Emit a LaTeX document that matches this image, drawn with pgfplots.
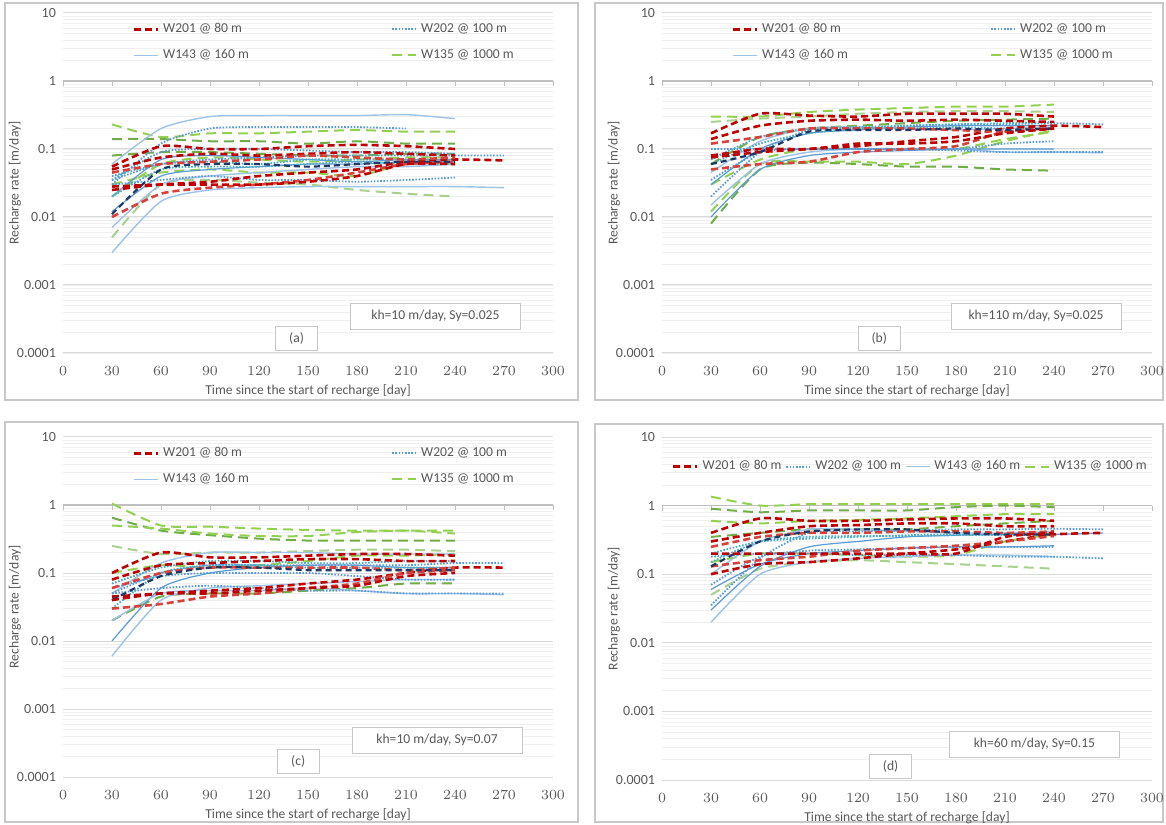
\documentclass[border=0pt]{standalone}
\usepackage{fontspec}
\setmainfont{Carlito}
\usepackage{pgfplots}
\pgfplotsset{compat=1.18}

\definecolor{cred}{HTML}{C00000}
\definecolor{cred2}{HTML}{D9403A}
\definecolor{cnavy}{HTML}{1F3864}
\definecolor{cblue}{HTML}{5B9BD5}
\definecolor{cteal}{HTML}{4BACC6}
\definecolor{clblue}{HTML}{9DC3E6}
\definecolor{cgreen}{HTML}{92D050}
\definecolor{cgreen2}{HTML}{70AD47}
\definecolor{cgreen3}{HTML}{A9D18E}
\definecolor{tickgray}{HTML}{595959}
\definecolor{gridmaj}{HTML}{D9D9D9}
\definecolor{gridmin}{HTML}{EFEFEF}
\definecolor{framegray}{HTML}{C8C8C8}
\definecolor{axgray}{HTML}{BFBFBF}

\tikzset{
  w201/.style={draw=cred, line width=1.3pt, dash pattern=on 3.5pt off 2pt},
  w201b/.style={draw=cred2, line width=1.3pt, dash pattern=on 3.5pt off 2pt},
  w201n/.style={draw=cnavy, line width=1.1pt, dash pattern=on 3pt off 2pt},
  w202/.style={draw=cblue, line width=0.9pt, dash pattern=on 0.8pt off 0.8pt},
  w202t/.style={draw=cteal, line width=0.9pt, dash pattern=on 0.8pt off 0.8pt},
  w143/.style={draw=clblue, line width=0.7pt},
  w143b/.style={draw=cblue, line width=0.6pt},
  w135/.style={draw=cgreen, line width=1pt, dash pattern=on 5pt off 3pt},
  w135b/.style={draw=cgreen2, line width=1pt, dash pattern=on 5pt off 3pt},
  w135c/.style={draw=cgreen3, line width=1pt, dash pattern=on 5pt off 3pt},
  annot/.style={draw=framegray, fill=white, font=\fontsize{6.8}{8}\selectfont, text=tickgray,
    minimum width=85pt, minimum height=13pt, inner sep=1pt},
  lab/.style={draw=framegray, fill=white, font=\fontsize{6.8}{8}\selectfont, text=tickgray,
    minimum width=21pt, minimum height=12pt, inner sep=1pt},
}

\pgfplotsset{
  every axis plot/.append style={smooth, tension=0.4},
  panel/.style={
    scale only axis, width=245pt, height=170pt, anchor=south west,
    xmin=0, xmax=300, ymin=1e-4, ymax=10,
    xtick={0,30,...,300},
    ytick={1e-4,1e-3,1e-2,1e-1,1,10},
    yticklabels={0.0001,0.001,0.01,0.1,1,10},
    axis line style={draw=none}, major tick length=0pt, minor tick length=0pt,
    ymajorgrids, yminorgrids,
    major grid style={draw=gridmaj, line width=0.5pt},
    minor grid style={draw=gridmin, line width=0.4pt},
    tick label style={font=\fontsize{7}{8}\selectfont, text=tickgray},
    xticklabel style={yshift=-3pt},
    xlabel={Time since the start of recharge [day]},
    ylabel={Recharge rate [m/day]},
    every axis x label/.style={at={(axis description cs:0.5,-0.11)}, anchor=center,
      font=\fontsize{6.8}{8}\selectfont, text=tickgray},
    every axis y label/.style={at={(axis description cs:-0.098,0.5)}, rotate=90, anchor=center,
      font=\fontsize{6.8}{8}\selectfont, text=tickgray},
    clip mode=individual,
    legend columns=2,
    legend image code/.code={\draw[##1] (0pt,0pt) -- (12pt,0pt);},
    legend style={draw=none, fill=none, font=\fontsize{6.8}{8}\selectfont, text=tickgray,
      at={(axis description cs:0.129,0.995)}, anchor=north west,
      column sep=0pt, row sep=3pt},
    legend cell align=left,
  },
}

\newcommand{\legendtwo}{%
  \addlegendimage{w201, sharp plot}\addlegendentry{\makebox[112pt][l]{W201 @ 80 m}}
  \addlegendimage{w202, sharp plot}\addlegendentry{W202 @ 100 m}
  \addlegendimage{w143, sharp plot}\addlegendentry{\makebox[112pt][l]{W143 @ 160 m}}
  \addlegendimage{w135, sharp plot}\addlegendentry{W135 @ 1000 m}}
\newcommand{\legendrow}{%
  \addlegendimage{w201, sharp plot}\addlegendentry{W201 @ 80 m}
  \addlegendimage{w202, sharp plot}\addlegendentry{W202 @ 100 m}
  \addlegendimage{w143, sharp plot}\addlegendentry{W143 @ 160 m}
  \addlegendimage{w135, sharp plot}\addlegendentry{W135 @ 1000 m}}
\newcommand{\onexaxis}{%
  \draw[draw=axgray, line width=0.6pt] (axis cs:0,1) -- (axis cs:300,1);
  \pgfplotsinvokeforeach{0,30,...,300}{\draw[draw=axgray, line width=0.5pt] (axis cs:##1,1) -- ++(0pt,-2.5pt);}}

\begin{document}
\begin{tikzpicture}
\useasboundingbox (0pt,0pt) rectangle (583pt,412pt);
\fill[white] (0pt,0pt) rectangle (583pt,412pt);
\draw[framegray, line width=0.6pt] (2.5pt,212pt) rectangle (289pt,410.5pt);
\draw[framegray, line width=0.6pt] (297.5pt,212pt) rectangle (581.5pt,410.5pt);
\draw[framegray, line width=0.6pt] (2.5pt,1pt) rectangle (289pt,201pt);
\draw[framegray, line width=0.6pt] (297.5pt,1pt) rectangle (581.5pt,200pt);

% ---------------- (a)
\begin{axis}[ymode=log, panel, at={(31.5pt,235.5pt)}]
\legendtwo
\onexaxis
\addplot[w135, forget plot] coordinates {(30,0.23)(60,0.15)(90,0.17)(120,0.17)(150,0.18)(180,0.19)(210,0.18)(240,0.18)};
\addplot[w135b, forget plot] coordinates {(30,0.14)(60,0.14)(90,0.13)(120,0.13)(150,0.12)(180,0.13)(210,0.12)(240,0.12)};
\addplot[w135c, forget plot] coordinates {(30,0.005)(60,0.03)(90,0.035)(120,0.032)(150,0.03)(180,0.025)(210,0.022)(240,0.02)};
\addplot[w135, forget plot] coordinates {(30,0.02)(60,0.06)(90,0.075)(120,0.07)(150,0.065)(180,0.07)(210,0.075)(240,0.075)};
\addplot[w135b, forget plot] coordinates {(30,0.08)(60,0.09)(90,0.09)(120,0.085)(150,0.08)(180,0.08)(210,0.085)(240,0.085)};
\addplot[w135, forget plot] coordinates {(30,0.03)(60,0.045)(90,0.05)(120,0.045)(150,0.045)(180,0.04)(210,0.06)(240,0.06)};
\addplot[w143, forget plot] coordinates {(30,0.06)(60,0.2)(90,0.3)(120,0.31)(150,0.31)(180,0.31)(210,0.32)(240,0.28)};
\addplot[w143, forget plot] coordinates {(30,0.003)(60,0.017)(90,0.025)(120,0.027)(150,0.028)(180,0.028)(210,0.028)(240,0.028)(270,0.027)};
\addplot[w143b, forget plot] coordinates {(30,0.012)(60,0.04)(90,0.05)(120,0.055)(150,0.06)(180,0.06)(210,0.065)(240,0.065)};
\addplot[w143, forget plot] coordinates {(30,0.007)(60,0.03)(90,0.04)(120,0.045)(150,0.05)(180,0.055)(210,0.055)(240,0.06)};
\addplot[w143b, forget plot] coordinates {(30,0.02)(60,0.07)(90,0.08)(120,0.075)(150,0.07)(180,0.065)(210,0.07)(240,0.07)};
\addplot[w202, forget plot] coordinates {(30,0.03)(60,0.12)(90,0.2)(120,0.21)(150,0.21)(180,0.21)(210,0.2)};
\addplot[w202, forget plot] coordinates {(30,0.035)(60,0.06)(90,0.07)(120,0.075)(150,0.08)(180,0.08)(210,0.08)(240,0.08)(270,0.08)};
\addplot[w202, forget plot] coordinates {(30,0.03)(60,0.035)(90,0.04)(120,0.035)(150,0.035)(180,0.033)(210,0.035)(240,0.038)};
\addplot[w202t, forget plot] coordinates {(30,0.02)(60,0.05)(90,0.055)(120,0.055)(150,0.06)(180,0.065)(210,0.06)(240,0.06)};
\addplot[w202t, forget plot] coordinates {(30,0.04)(60,0.06)(90,0.065)(120,0.06)(150,0.07)(180,0.07)(210,0.07)(240,0.07)};
\addplot[w202, forget plot] coordinates {(30,0.035)(60,0.09)(90,0.1)(120,0.1)(150,0.095)(180,0.09)(210,0.09)(240,0.085)};
\addplot[w201, forget plot] coordinates {(30,0.055)(60,0.11)(90,0.1)(120,0.1)(150,0.11)(180,0.115)(210,0.11)(240,0.1)};
\addplot[w201, forget plot] coordinates {(30,0.05)(60,0.075)(90,0.085)(120,0.08)(150,0.085)(180,0.09)(210,0.085)(240,0.08)};
\addplot[w201, forget plot] coordinates {(30,0.025)(60,0.03)(90,0.033)(120,0.04)(150,0.045)(180,0.05)(210,0.065)(240,0.07)(270,0.068)};
\addplot[w201b, forget plot] coordinates {(30,0.01)(60,0.022)(90,0.027)(120,0.03)(150,0.035)(180,0.045)(210,0.06)(240,0.065)};
\addplot[w201b, forget plot] coordinates {(30,0.045)(60,0.06)(90,0.065)(120,0.07)(150,0.08)(180,0.075)(210,0.07)(240,0.075)};
\addplot[w201n, forget plot] coordinates {(30,0.011)(60,0.05)(90,0.06)(120,0.06)(150,0.055)(180,0.06)(210,0.065)(240,0.065)};
\addplot[w201, forget plot] coordinates {(30,0.028)(60,0.03)(90,0.03)(120,0.03)(150,0.033)(180,0.04)(210,0.06)(240,0.06)};
\node[annot] at (axis cs:228,3.47e-4) {kh=10 m/day, Sy=0.025};
\node[lab] at (axis cs:143,1.64e-4) {(a)};
\end{axis}

% ---------------- (b)
\begin{axis}[ymode=log, panel, at={(331pt,235.5pt)}]
\legendtwo
\onexaxis
\addplot[w135, forget plot] coordinates {(30,0.3)(60,0.3)(90,0.35)(120,0.38)(150,0.4)(180,0.42)(210,0.42)(240,0.45)};
\addplot[w135b, forget plot] coordinates {(30,0.008)(60,0.05)(90,0.063)(120,0.06)(150,0.055)(180,0.055)(210,0.05)(240,0.048)};
\addplot[w135c, forget plot] coordinates {(30,0.25)(60,0.28)(90,0.3)(120,0.33)(150,0.35)(180,0.36)(210,0.36)(240,0.35)};
\addplot[w135, forget plot] coordinates {(30,0.012)(60,0.06)(90,0.065)(120,0.065)(150,0.06)(180,0.08)(210,0.13)(240,0.19)};
\addplot[w135b, forget plot] coordinates {(30,0.06)(60,0.15)(90,0.2)(120,0.22)(150,0.24)(180,0.26)(210,0.27)(240,0.28)};
\addplot[w135, forget plot] coordinates {(30,0.03)(60,0.07)(90,0.1)(120,0.1)(150,0.1)(180,0.1)(210,0.14)(240,0.18)};
\addplot[w143, forget plot] coordinates {(30,0.015)(60,0.06)(90,0.09)(120,0.1)(150,0.1)(180,0.1)(210,0.09)(240,0.09)(270,0.088)};
\addplot[w143b, forget plot] coordinates {(30,0.03)(60,0.1)(90,0.17)(120,0.19)(150,0.21)(180,0.22)(210,0.22)(240,0.22)};
\addplot[w143, forget plot] coordinates {(30,0.045)(60,0.13)(90,0.2)(120,0.21)(150,0.2)(180,0.19)(210,0.2)(240,0.21)};
\addplot[w143b, forget plot] coordinates {(30,0.01)(60,0.05)(90,0.08)(120,0.09)(150,0.095)(180,0.1)(210,0.1)(240,0.1)};
\addplot[w202, forget plot] coordinates {(30,0.1)(60,0.1)(90,0.1)(120,0.1)(150,0.1)(180,0.095)(210,0.09)(240,0.09)(270,0.09)};
\addplot[w202, forget plot] coordinates {(30,0.035)(60,0.09)(90,0.1)(120,0.1)(150,0.1)(180,0.1)(210,0.12)(240,0.13)};
\addplot[w202, forget plot] coordinates {(30,0.02)(60,0.09)(90,0.19)(120,0.2)(150,0.22)(180,0.23)(210,0.23)(240,0.24)(270,0.23)};
\addplot[w202t, forget plot] coordinates {(30,0.06)(60,0.12)(90,0.17)(120,0.2)(150,0.2)(180,0.21)(210,0.2)(240,0.2)};
\addplot[w202t, forget plot] coordinates {(30,0.07)(60,0.15)(90,0.2)(120,0.21)(150,0.22)(180,0.23)(210,0.24)(240,0.25)};
\addplot[w201, forget plot] coordinates {(30,0.17)(60,0.33)(90,0.31)(120,0.3)(150,0.33)(180,0.33)(210,0.33)(240,0.3)};
\addplot[w201, forget plot] coordinates {(30,0.14)(60,0.22)(90,0.26)(120,0.27)(150,0.26)(180,0.27)(210,0.26)(240,0.25)};
\addplot[w201, forget plot] coordinates {(30,0.075)(60,0.09)(90,0.1)(120,0.11)(150,0.13)(180,0.15)(210,0.2)(240,0.22)(270,0.21)};
\addplot[w201b, forget plot] coordinates {(30,0.05)(60,0.06)(90,0.065)(120,0.09)(150,0.1)(180,0.11)(210,0.18)(240,0.2)};
\addplot[w201b, forget plot] coordinates {(30,0.12)(60,0.15)(90,0.2)(120,0.2)(150,0.2)(180,0.19)(210,0.18)(240,0.2)};
\addplot[w201n, forget plot] coordinates {(30,0.06)(60,0.09)(90,0.18)(120,0.19)(150,0.19)(180,0.2)(210,0.19)(240,0.2)};
\addplot[w201, forget plot] coordinates {(30,0.08)(60,0.1)(90,0.1)(120,0.12)(150,0.12)(180,0.13)(210,0.17)(240,0.2)};
\node[annot] at (axis cs:229,3.47e-4) {kh=110 m/day, Sy=0.025};
\node[lab] at (axis cs:133,1.64e-4) {(b)};
\end{axis}

% ---------------- (c)
\begin{axis}[ymode=log, panel, at={(31.5pt,23.5pt)}]
\legendtwo
\onexaxis
\addplot[w135, forget plot] coordinates {(30,1.05)(60,0.5)(90,0.48)(120,0.45)(150,0.43)(180,0.42)(210,0.42)(240,0.42)};
\addplot[w135b, forget plot] coordinates {(30,0.65)(60,0.42)(90,0.36)(120,0.32)(150,0.3)(180,0.3)(210,0.3)(240,0.3)};
\addplot[w135, forget plot] coordinates {(30,0.5)(60,0.45)(90,0.38)(120,0.35)(150,0.35)(180,0.4)(210,0.42)(240,0.38)};
\addplot[w135c, forget plot] coordinates {(30,0.25)(60,0.19)(90,0.2)(120,0.2)(150,0.21)(180,0.22)(210,0.22)(240,0.21)};
\addplot[w135b, forget plot] coordinates {(30,0.02)(60,0.045)(90,0.05)(120,0.05)(150,0.055)(180,0.06)(210,0.07)(240,0.07)};
\addplot[w135, forget plot] coordinates {(30,0.1)(60,0.13)(90,0.12)(120,0.13)(150,0.15)(180,0.18)(210,0.18)(240,0.19)};
\addplot[w143, forget plot] coordinates {(30,0.006)(60,0.04)(90,0.06)(120,0.065)(150,0.07)(180,0.075)(210,0.08)(240,0.08)};
\addplot[w143b, forget plot] coordinates {(30,0.01)(60,0.06)(90,0.1)(120,0.12)(150,0.13)(180,0.13)(210,0.12)(240,0.12)};
\addplot[w143, forget plot] coordinates {(30,0.05)(60,0.14)(90,0.2)(120,0.2)(150,0.2)(180,0.19)(210,0.19)(240,0.19)};
\addplot[w143, forget plot] coordinates {(30,0.02)(60,0.05)(90,0.055)(120,0.055)(150,0.06)(180,0.055)(210,0.05)(240,0.05)(270,0.048)};
\addplot[w202, forget plot] coordinates {(30,0.05)(60,0.1)(90,0.13)(120,0.13)(150,0.13)(180,0.13)(210,0.13)(240,0.14)(270,0.14)};
\addplot[w202, forget plot] coordinates {(30,0.06)(60,0.09)(90,0.1)(120,0.1)(150,0.1)(180,0.09)(210,0.08)(240,0.08)};
\addplot[w202, forget plot] coordinates {(30,0.05)(60,0.06)(90,0.065)(120,0.06)(150,0.055)(180,0.055)(210,0.05)(240,0.05)(270,0.05)};
\addplot[w202t, forget plot] coordinates {(30,0.03)(60,0.1)(90,0.13)(120,0.13)(150,0.12)(180,0.12)(210,0.12)(240,0.12)};
\addplot[w202t, forget plot] coordinates {(30,0.07)(60,0.12)(90,0.15)(120,0.15)(150,0.14)(180,0.14)(210,0.15)(240,0.15)};
\addplot[w201, forget plot] coordinates {(30,0.1)(60,0.2)(90,0.17)(120,0.17)(150,0.18)(180,0.19)(210,0.19)(240,0.18)};
\addplot[w201, forget plot] coordinates {(30,0.08)(60,0.13)(90,0.14)(120,0.15)(150,0.16)(180,0.16)(210,0.15)(240,0.15)};
\addplot[w201, forget plot] coordinates {(30,0.045)(60,0.05)(90,0.055)(120,0.06)(150,0.07)(180,0.08)(210,0.1)(240,0.12)(270,0.12)};
\addplot[w201b, forget plot] coordinates {(30,0.03)(60,0.035)(90,0.045)(120,0.05)(150,0.06)(180,0.07)(210,0.1)(240,0.11)};
\addplot[w201b, forget plot] coordinates {(30,0.06)(60,0.1)(90,0.12)(120,0.12)(150,0.12)(180,0.12)(210,0.11)(240,0.12)};
\addplot[w201n, forget plot] coordinates {(30,0.04)(60,0.09)(90,0.12)(120,0.12)(150,0.11)(180,0.11)(210,0.11)(240,0.11)};
\addplot[w201, forget plot] coordinates {(30,0.04)(60,0.05)(90,0.05)(120,0.055)(150,0.06)(180,0.065)(210,0.09)(240,0.1)};
\node[annot] at (axis cs:229,3.5e-4) {kh=10 m/day, Sy=0.07};
\node[lab] at (axis cs:144,1.7e-4) {(c)};
\end{axis}

% ---------------- (d)
\begin{axis}[ymode=log, panel, at={(331pt,22pt)}, height=171.5pt, legend columns=4,
  legend style={at={(axis description cs:0.509,0.956)}, anchor=north}]
\legendrow
\onexaxis
\addplot[w135, forget plot] coordinates {(30,1.35)(60,1.0)(90,1.05)(120,1.05)(150,1.05)(180,1.05)(210,1.05)(240,1.05)};
\addplot[w135b, forget plot] coordinates {(30,0.9)(60,0.8)(90,0.85)(120,0.85)(150,0.85)(180,0.95)(210,1.0)(240,0.95)};
\addplot[w135c, forget plot] coordinates {(30,0.05)(60,0.12)(90,0.15)(120,0.16)(150,0.15)(180,0.14)(210,0.13)(240,0.12)};
\addplot[w135, forget plot] coordinates {(30,0.6)(60,0.55)(90,0.6)(120,0.62)(150,0.65)(180,0.7)(210,0.75)(240,0.75)};
\addplot[w135b, forget plot] coordinates {(30,0.35)(60,0.4)(90,0.45)(120,0.45)(150,0.45)(180,0.5)(210,0.55)(240,0.6)};
\addplot[w135, forget plot] coordinates {(30,0.15)(60,0.2)(90,0.2)(120,0.19)(150,0.18)(180,0.19)(210,0.3)(240,0.38)};
\addplot[w143, forget plot] coordinates {(30,0.02)(60,0.1)(90,0.15)(120,0.17)(150,0.18)(180,0.19)(210,0.19)(240,0.18)};
\addplot[w143b, forget plot] coordinates {(30,0.03)(60,0.13)(90,0.25)(120,0.3)(150,0.35)(180,0.37)(210,0.38)(240,0.38)(270,0.4)};
\addplot[w143, forget plot] coordinates {(30,0.1)(60,0.3)(90,0.45)(120,0.45)(150,0.42)(180,0.4)(210,0.4)(240,0.42)};
\addplot[w143b, forget plot] coordinates {(30,0.06)(60,0.14)(90,0.2)(120,0.22)(150,0.24)(180,0.25)(210,0.25)(240,0.26)};
\addplot[w202, forget plot] coordinates {(30,0.18)(60,0.2)(90,0.2)(120,0.19)(150,0.19)(180,0.19)(210,0.18)(240,0.18)(270,0.17)};
\addplot[w202, forget plot] coordinates {(30,0.07)(60,0.18)(90,0.22)(120,0.23)(150,0.24)(180,0.25)(210,0.25)(240,0.25)};
\addplot[w202, forget plot] coordinates {(30,0.035)(60,0.17)(90,0.4)(120,0.42)(150,0.43)(180,0.45)(210,0.45)(240,0.46)(270,0.45)};
\addplot[w202t, forget plot] coordinates {(30,0.15)(60,0.3)(90,0.35)(120,0.36)(150,0.36)(180,0.37)(210,0.38)(240,0.4)};
\addplot[w202t, forget plot] coordinates {(30,0.2)(60,0.3)(90,0.33)(120,0.35)(150,0.37)(180,0.38)(210,0.37)(240,0.38)};
\addplot[w201, forget plot] coordinates {(30,0.4)(60,0.65)(90,0.6)(120,0.6)(150,0.63)(180,0.65)(210,0.65)(240,0.6)};
\addplot[w201, forget plot] coordinates {(30,0.3)(60,0.4)(90,0.5)(120,0.52)(150,0.55)(180,0.55)(210,0.5)(240,0.5)};
\addplot[w201, forget plot] coordinates {(30,0.1)(60,0.14)(90,0.15)(120,0.17)(150,0.2)(180,0.23)(210,0.3)(240,0.38)(270,0.4)};
\addplot[w201b, forget plot] coordinates {(30,0.13)(60,0.16)(90,0.18)(120,0.22)(150,0.24)(180,0.26)(210,0.3)(240,0.36)};
\addplot[w201b, forget plot] coordinates {(30,0.25)(60,0.35)(90,0.4)(120,0.4)(150,0.42)(180,0.42)(210,0.4)(240,0.42)};
\addplot[w201n, forget plot] coordinates {(30,0.13)(60,0.3)(90,0.42)(120,0.45)(150,0.45)(180,0.4)(210,0.38)(240,0.38)};
\addplot[w201, forget plot] coordinates {(30,0.2)(60,0.2)(90,0.2)(120,0.2)(150,0.2)(180,0.2)(210,0.35)(240,0.4)};
\node[annot] at (axis cs:228,3.35e-4) {kh=60 m/day, Sy=0.15};
\node[lab] at (axis cs:140,1.58e-4) {(d)};
\end{axis}
\end{tikzpicture}
\end{document}
